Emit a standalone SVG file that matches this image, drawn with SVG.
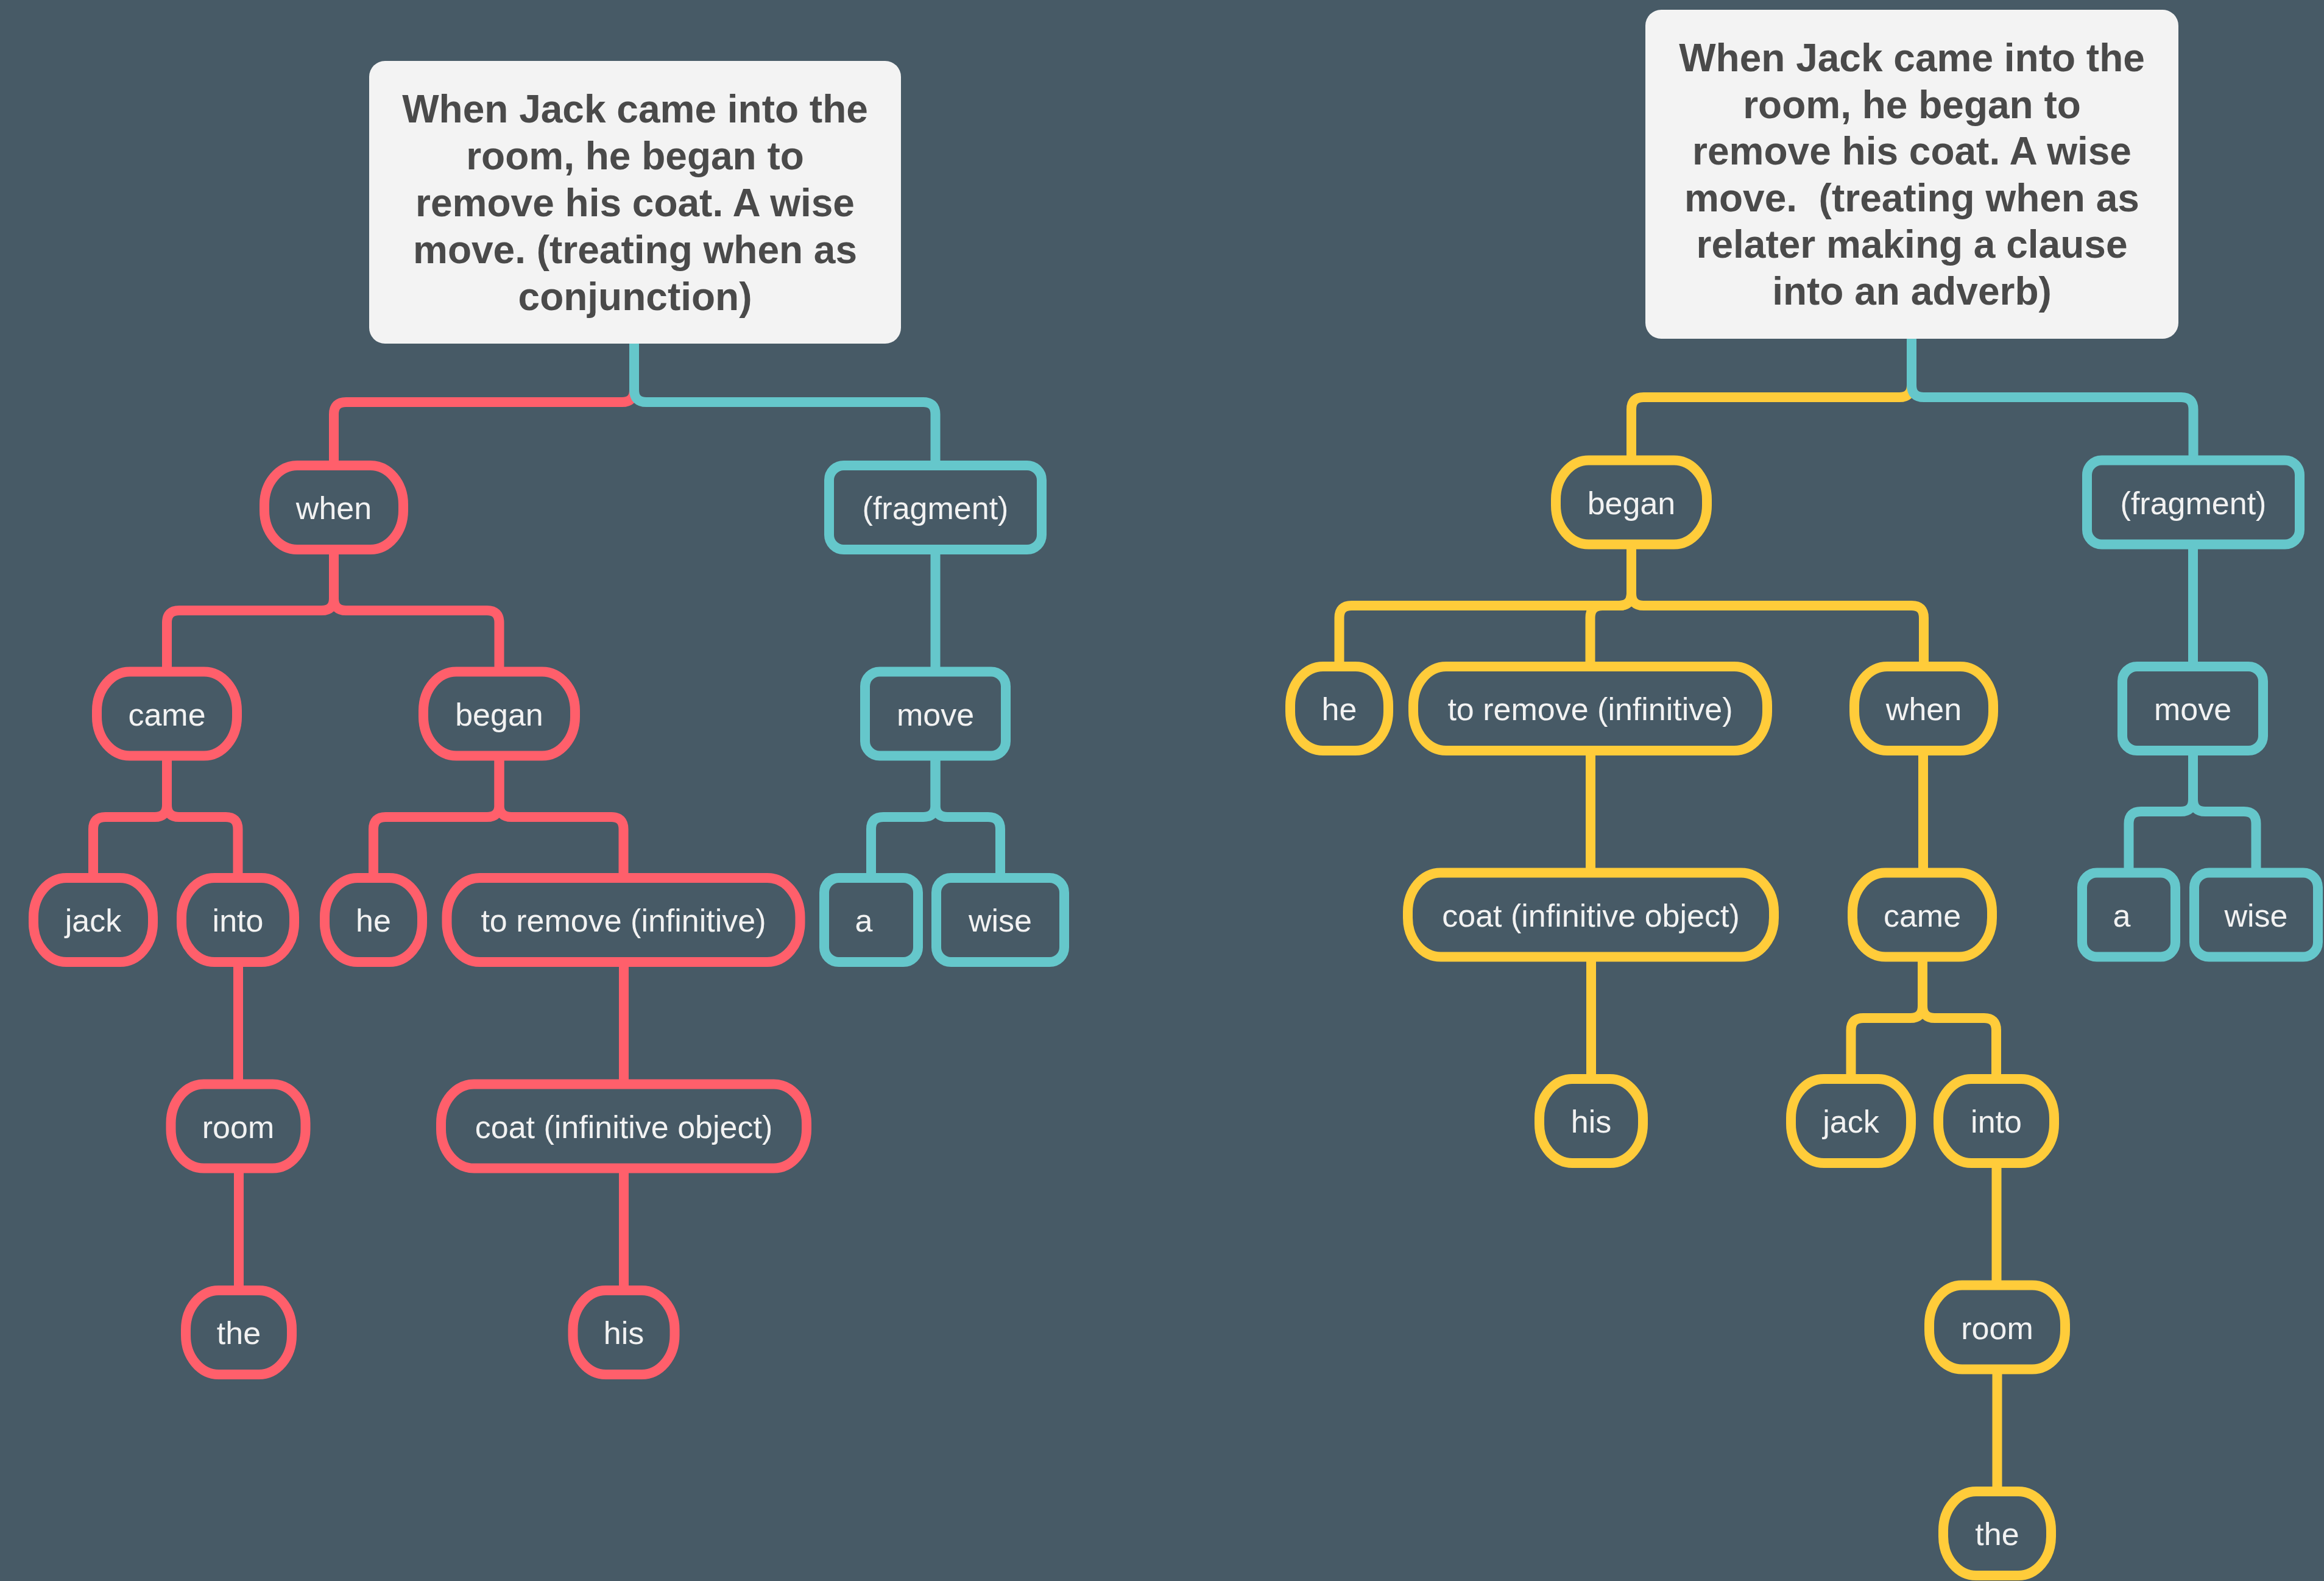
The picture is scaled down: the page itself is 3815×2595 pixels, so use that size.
<svg xmlns="http://www.w3.org/2000/svg" width="3815" height="2595" viewBox="0 0 3815 2595">
<style>
.bg{fill:#475A66}
.title rect{fill:#F3F3F3}
.title text{font-family:"Liberation Sans",Arial,sans-serif;font-weight:bold;font-size:64px;fill:#4A4A4A;text-anchor:middle}
.n rect{fill:#475A66;stroke-width:16}
.n text{font-family:"Liberation Sans",Arial,sans-serif;font-size:52px;fill:#F2F2F2;text-anchor:middle}
.r rect{stroke:#FF5F6B}
.y rect{stroke:#FFCC3A}
.t rect{stroke:#65C7CB}
.conn path{fill:none;stroke-width:16}
.cr{stroke:#FF5F6B}
.cy{stroke:#FFCC3A}
.ct{stroke:#65C7CB}
</style>
<rect class="bg" x="0" y="0" width="3815" height="2595"/>

<g id="connectors" class="conn">
  <!-- left tree -->
  <path class="cr" d="M1041 564 V640 Q1041 660 1021 660 H568 Q548 660 548 680 V764"/>
  <path class="ct" d="M1041 564 V640 Q1041 660 1061 660 H1515.5 Q1535.5 660 1535.5 680 V764"/>
  <path class="cr" d="M548 902 V982 Q548 1002 528 1002 H294 Q274 1002 274 1022 V1102.5"/>
  <path class="cr" d="M548 902 V982 Q548 1002 568 1002 H799.5 Q819.5 1002 819.5 1022 V1102.5"/>
  <path class="cr" d="M274 1240.5 V1321 Q274 1341 254 1341 H173 Q153 1341 153 1361 V1441"/>
  <path class="cr" d="M274 1240.5 V1321 Q274 1341 294 1341 H370.5 Q390.5 1341 390.5 1361 V1441"/>
  <path class="cr" d="M819.5 1240.5 V1321 Q819.5 1341 799.5 1341 H633 Q613 1341 613 1361 V1441"/>
  <path class="cr" d="M819.5 1240.5 V1321 Q819.5 1341 839.5 1341 H1003.5 Q1023.5 1341 1023.5 1361 V1441"/>
  <path class="cr" d="M391 1579 V1779.5"/>
  <path class="cr" d="M1024 1579 V1779.5"/>
  <path class="cr" d="M392 1917.5 V2118"/>
  <path class="cr" d="M1024 1917.5 V2118"/>
  <path class="ct" d="M1535.5 902 V1102.5"/>
  <path class="ct" d="M1535.5 1240.5 V1321 Q1535.5 1341 1515.5 1341 H1450 Q1430 1341 1430 1361 V1441"/>
  <path class="ct" d="M1535.5 1240.5 V1321 Q1535.5 1341 1555.5 1341 H1622 Q1642 1341 1642 1361 V1441"/>
  <!-- right tree -->
  <path class="cy" d="M3138 556 V632 Q3138 652 3118 652 H2698 Q2678 652 2678 672 V755.5"/>
  <path class="ct" d="M3138 556 V632 Q3138 652 3158 652 H3580.5 Q3600.5 652 3600.5 672 V755.5"/>
  <path class="cy" d="M2678 893.5 V974 Q2678 994 2658 994 H2218.5 Q2198.5 994 2198.5 1014 V1094"/>
  <path class="cy" d="M2678 893.5 V974 Q2678 994 2658 994 H2630.5 Q2610.5 994 2610.5 1014 V1094"/>
  <path class="cy" d="M2678 893.5 V974 Q2678 994 2698 994 H3138 Q3158 994 3158 1014 V1094"/>
  <path class="cy" d="M2611 1232 V1432.5"/>
  <path class="cy" d="M3157 1232 V1432.5"/>
  <path class="cy" d="M2612 1570.5 V1771"/>
  <path class="cy" d="M3156 1570.5 V1651 Q3156 1671 3136 1671 H3058.5 Q3038.5 1671 3038.5 1691 V1771"/>
  <path class="cy" d="M3156 1570.5 V1651 Q3156 1671 3176 1671 H3257 Q3277 1671 3277 1691 V1771"/>
  <path class="cy" d="M3277.5 1909 V2109.5"/>
  <path class="cy" d="M3278.5 2247.5 V2448"/>
  <path class="ct" d="M3600 893.5 V1094"/>
  <path class="ct" d="M3600 1232 V1312 Q3600 1332 3580 1332 H3514.5 Q3494.5 1332 3494.5 1352 V1432.5"/>
  <path class="ct" d="M3600 1232 V1312 Q3600 1332 3620 1332 H3683.5 Q3703.5 1332 3703.5 1352 V1432.5"/>
</g>

<!-- left title -->
<g id="title-left" class="title">
  <rect x="606" y="100" width="873" height="464" rx="26"/>
  <text x="1042.5" y="201">When Jack came into the</text>
  <text x="1042.5" y="278">room, he began to</text>
  <text x="1042.5" y="355">remove his coat. A wise</text>
  <text x="1042.5" y="432">move. (treating when as</text>
  <text x="1042.5" y="509">conjunction)</text>
</g>

<!-- left tree nodes -->
<g id="L-when" class="n r"><rect x="434" y="764" width="228" height="138" rx="54" ry="64"/><text x="548" y="852">when</text></g>
<g id="L-came" class="n r"><rect x="159" y="1102.5" width="230" height="138" rx="54" ry="64"/><text x="274" y="1190.5">came</text></g>
<g id="L-began" class="n r"><rect x="695" y="1102.5" width="249" height="138" rx="54" ry="64"/><text x="819.5" y="1190.5">began</text></g>
<g id="L-jack" class="n r"><rect x="55" y="1441" width="196" height="138" rx="54" ry="64"/><text x="153" y="1529">jack</text></g>
<g id="L-into" class="n r"><rect x="298" y="1441" width="185" height="138" rx="54" ry="64"/><text x="390.5" y="1529">into</text></g>
<g id="L-he" class="n r"><rect x="533" y="1441" width="160" height="138" rx="54" ry="64"/><text x="613" y="1529">he</text></g>
<g id="L-toremove" class="n r"><rect x="733.5" y="1441" width="580" height="138" rx="54" ry="64"/><text x="1023.5" y="1529">to remove (infinitive)</text></g>
<g id="L-room" class="n r"><rect x="280.5" y="1779.5" width="221" height="138" rx="54" ry="64"/><text x="391" y="1867.5">room</text></g>
<g id="L-coat" class="n r"><rect x="724" y="1779.5" width="600" height="138" rx="54" ry="64"/><text x="1024" y="1867.5">coat (infinitive object)</text></g>
<g id="L-the" class="n r"><rect x="305" y="2118" width="174" height="138" rx="54" ry="64"/><text x="392" y="2206">the</text></g>
<g id="L-his" class="n r"><rect x="940.5" y="2118" width="167" height="138" rx="54" ry="64"/><text x="1024" y="2206">his</text></g>
<g id="L-fragment" class="n t"><rect x="1361" y="764" width="349" height="138" rx="24"/><text x="1535.5" y="852">(fragment)</text></g>
<g id="L-move" class="n t"><rect x="1420" y="1102.5" width="231" height="138" rx="24"/><text x="1535.5" y="1190.5">move</text></g>
<g id="L-a" class="n t"><rect x="1353" y="1441" width="154" height="138" rx="24"/><text x="1418" y="1529">a</text></g>
<g id="L-wise" class="n t"><rect x="1537" y="1441" width="210" height="138" rx="24"/><text x="1642" y="1529">wise</text></g>

<!-- right title -->
<g id="title-right" class="title">
  <rect x="2701" y="16" width="875" height="540" rx="26"/>
  <text x="3138.5" y="117">When Jack came into the</text>
  <text x="3138.5" y="193.5">room, he began to</text>
  <text x="3138.5" y="270">remove his coat. A wise</text>
  <text x="3138.5" y="346.5">move.&#160; (treating when as</text>
  <text x="3138.5" y="423">relater making a clause</text>
  <text x="3138.5" y="499.5">into an adverb)</text>
</g>

<!-- right tree nodes -->
<g id="R-began" class="n y"><rect x="2554" y="755.5" width="248" height="138" rx="54" ry="64"/><text x="2678" y="843.5">began</text></g>
<g id="R-he" class="n y"><rect x="2118" y="1094" width="161" height="138" rx="54" ry="64"/><text x="2198.5" y="1182">he</text></g>
<g id="R-toremove" class="n y"><rect x="2320" y="1094" width="581" height="138" rx="54" ry="64"/><text x="2610.5" y="1182">to remove (infinitive)</text></g>
<g id="R-when" class="n y"><rect x="3044" y="1094" width="228" height="138" rx="54" ry="64"/><text x="3158" y="1182">when</text></g>
<g id="R-coat" class="n y"><rect x="2311" y="1432.5" width="601" height="138" rx="54" ry="64"/><text x="2611.5" y="1520.5">coat (infinitive object)</text></g>
<g id="R-came" class="n y"><rect x="3041" y="1432.5" width="229" height="138" rx="54" ry="64"/><text x="3155.5" y="1520.5">came</text></g>
<g id="R-his" class="n y"><rect x="2527" y="1771" width="170" height="138" rx="54" ry="64"/><text x="2612" y="1859">his</text></g>
<g id="R-jack" class="n y"><rect x="2940" y="1771" width="197" height="138" rx="54" ry="64"/><text x="3038.5" y="1859">jack</text></g>
<g id="R-into" class="n y"><rect x="3182" y="1771" width="190" height="138" rx="54" ry="64"/><text x="3277" y="1859">into</text></g>
<g id="R-room" class="n y"><rect x="3167" y="2109.5" width="223" height="138" rx="54" ry="64"/><text x="3278.5" y="2197.5">room</text></g>
<g id="R-the" class="n y"><rect x="3190" y="2448" width="177" height="138" rx="54" ry="64"/><text x="3278.5" y="2536">the</text></g>
<g id="R-fragment" class="n t"><rect x="3426" y="755.5" width="349" height="138" rx="24"/><text x="3600.5" y="843.5">(fragment)</text></g>
<g id="R-move" class="n t"><rect x="3484" y="1094" width="231" height="138" rx="24"/><text x="3599.5" y="1182">move</text></g>
<g id="R-a" class="n t"><rect x="3418" y="1432.5" width="153" height="138" rx="24"/><text x="3483" y="1520.5">a</text></g>
<g id="R-wise" class="n t"><rect x="3602" y="1432.5" width="203" height="138" rx="24"/><text x="3703.5" y="1520.5">wise</text></g>
</svg>
